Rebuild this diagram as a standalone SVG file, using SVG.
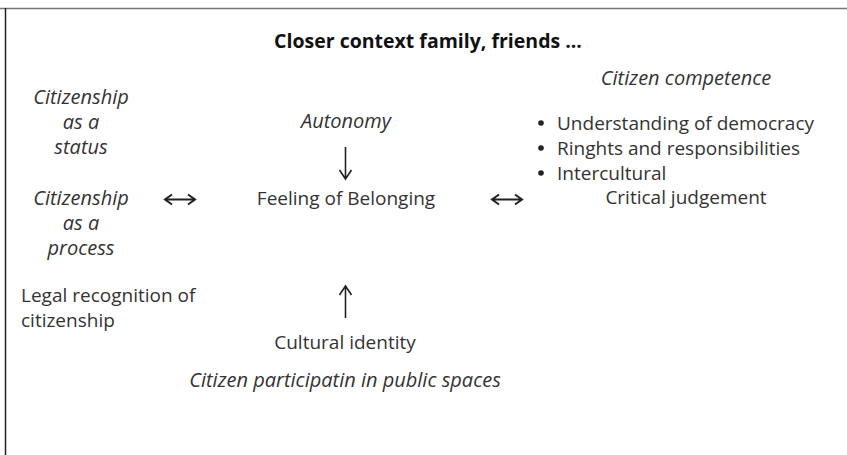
<svg xmlns="http://www.w3.org/2000/svg" width="847" height="455" viewBox="0 0 847 455">
<style>
text{font-family:"Open Sans","Noto Sans","DejaVu Sans",sans-serif;font-size:19px;fill:#333;}
.b{font-weight:bold;fill:#111;font-size:19.5px;}
.i{font-style:italic;font-size:20px;}
.m{text-anchor:middle;}
.a{stroke:#222;stroke-width:1.6;fill:none;}
.h{stroke:#222;stroke-width:2;fill:none;}
</style>
<rect width="847" height="455" fill="#fff"/>
<line x1="0" y1="8.5" x2="847" y2="8.5" stroke="#777" stroke-width="1.5"/>
<line x1="5.5" y1="8" x2="5.5" y2="455" stroke="#222" stroke-width="1.5"/>
<g id="title"><text class="b m" x="428" y="48">Closer context family, friends ...</text></g>
<g id="status"><text class="i m" x="81" y="104">Citizenship</text><text class="i m" x="81" y="129">as a</text><text class="i m" x="81" y="154">status</text></g>
<g id="process"><text class="i m" x="81" y="205">Citizenship</text><text class="i m" x="81" y="230">as a</text><text class="i m" x="81" y="255">process</text></g>
<g id="legal"><text x="21" y="302">Legal recognition of</text><text x="21" y="327">citizenship</text></g>
<g id="autonomy"><text class="i m" x="346" y="128">Autonomy</text></g>
<g id="belonging"><text class="m" x="346" y="205">Feeling of Belonging</text></g>
<g id="cultural"><text class="m" x="345" y="349">Cultural identity</text></g>
<g id="participation"><text class="i m" x="345" y="387">Citizen participatin in public spaces</text></g>
<g id="competence"><text class="i m" x="686" y="85">Citizen competence</text>
<circle cx="541" cy="123" r="2.8" fill="#222"/><text x="557" y="130">Understanding of democracy</text>
<circle cx="541" cy="148" r="2.8" fill="#222"/><text x="557" y="155">Ringhts and responsibilities</text>
<circle cx="541" cy="173" r="2.8" fill="#222"/><text x="557" y="180">Intercultural</text>
<text class="m" x="686" y="204">Critical judgement</text></g>
<g id="connectors">
<path class="a" d="M345.5 147V179M339.5 170L345.5 179L351.5 170"/>
<path class="a" d="M345.5 318V286M339.5 295L345.5 286L351.5 295"/>
<path class="h" d="M165 199.5H195M172 194.5L165 199.5L172 204.5M188 194.5L195 199.5L188 204.5"/>
<path class="h" d="M492 199.5H522M499 194.5L492 199.5L499 204.5M515 194.5L522 199.5L515 204.5"/>
</g>
</svg>
